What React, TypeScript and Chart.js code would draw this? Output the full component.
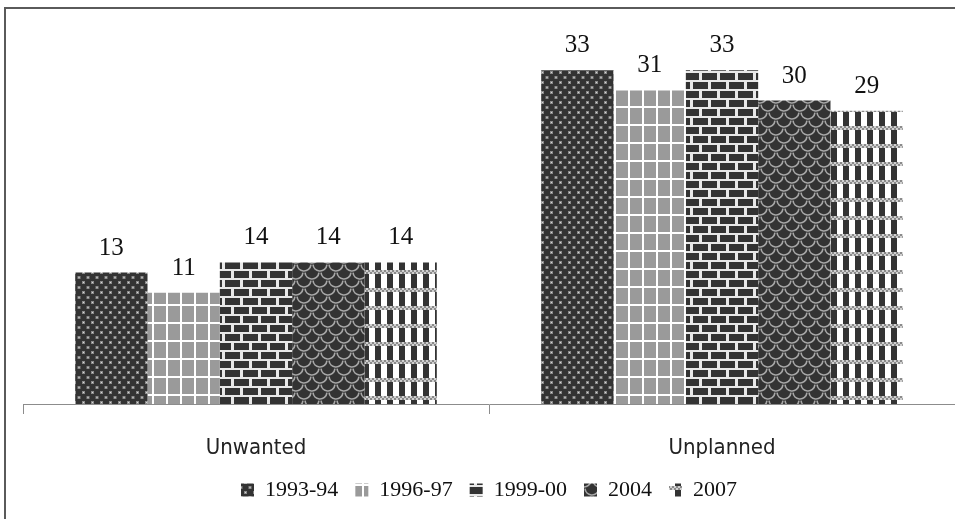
import React, { useEffect, useRef } from "react";
import { Chart, registerables } from "chart.js";

Chart.register(...registerables);

const categories = ["Unwanted", "Unplanned"];
const seriesLabels = ["1993-94", "1996-97", "1999-00", "2004", "2007"];
const s1993 = [13, 33];
const s1996 = [11, 31];
const s1999 = [14, 33];
const s2004 = [14, 30];
const s2007 = [14, 29];
const yMax = 35;

const DARK = "#333333";

function tile(w: number, h: number, draw: (c: CanvasRenderingContext2D) => void): CanvasPattern {
  const cv = document.createElement("canvas");
  cv.width = w;
  cv.height = h;
  const c = cv.getContext("2d")!;
  draw(c);
  const main = document.createElement("canvas").getContext("2d")!;
  return main.createPattern(cv, "repeat")!;
}

function dotsPattern() {
  return tile(9, 10, (c) => {
    c.fillStyle = DARK;
    c.fillRect(0, 0, 9, 10);
    c.fillStyle = "#8a8a8a";
    c.fillRect(1, 1, 3, 3);
    c.fillRect(5.5, 6, 3, 3);
    c.fillStyle = "#d8d8d8";
    c.fillRect(2, 2, 1, 1);
    c.fillRect(6.5, 7, 1, 1);
  });
}

function gridPattern() {
  return tile(14, 18, (c) => {
    c.fillStyle = "#ffffff";
    c.fillRect(0, 0, 14, 18);
    c.fillStyle = "#9a9a9a";
    c.fillRect(0, 0, 12, 16);
  });
}

function brickPattern() {
  return tile(18, 18, (c) => {
    c.fillStyle = "#e8e8e8";
    c.fillRect(0, 0, 18, 18);
    c.fillStyle = DARK;
    c.fillRect(0, 1, 15, 7);
    c.fillRect(9, 10, 15, 7);
    c.fillRect(-9, 10, 15, 7);
  });
}

function scalePattern() {
  return tile(16, 16, (c) => {
    c.fillStyle = DARK;
    c.fillRect(0, 0, 16, 16);
    c.strokeStyle = "#a8a8a8";
    c.lineWidth = 1.6;
    const arcs = [
      [8, 0],
      [0, 8],
      [16, 8],
      [8, 16],
    ];
    arcs.forEach(([x, y]) => {
      c.beginPath();
      c.arc(x, y, 7, 0.1, Math.PI - 0.1);
      c.stroke();
    });
  });
}

function stripePattern() {
  return tile(12, 18, (c) => {
    c.fillStyle = "#ffffff";
    c.fillRect(0, 0, 12, 18);
    c.fillStyle = DARK;
    c.fillRect(3, 0, 6, 18);
    for (let x = 0; x < 12; x += 2) {
      for (let y = 0; y < 4; y += 2) {
        c.fillStyle = (x + y) % 4 === 0 ? "#8a8a8a" : "#d0d0d0";
        c.fillRect(x, y, 2, 2);
      }
    }
  });
}

const valuePlugin = {
  id: "barValues",
  afterDatasetsDraw(chart: any) {
    const ctx = chart.ctx as CanvasRenderingContext2D;
    ctx.save();
    ctx.font = "25px 'Liberation Serif', 'Times New Roman', serif";
    ctx.fillStyle = "#111111";
    ctx.textAlign = "center";
    ctx.textBaseline = "alphabetic";
    chart.data.datasets.forEach((ds: any, i: number) => {
      const meta = chart.getDatasetMeta(i);
      meta.data.forEach((el: any, j: number) => {
        ctx.fillText(String(ds.data[j]), el.x, el.y - 18);
      });
    });
    ctx.restore();
  },
};

export default function App() {
  const ref = useRef<HTMLCanvasElement>(null);

  useEffect(() => {
    document.body.style.margin = "0";
    const canvas = ref.current!;
    const series = [s1993, s1996, s1999, s2004, s2007];
    const patterns = [dotsPattern(), gridPattern(), brickPattern(), scalePattern(), stripePattern()];
    const chart = new Chart(canvas, {
      type: "bar",
      data: {
        labels: categories,
        datasets: series.map((d, i) => ({
          label: seriesLabels[i],
          data: d,
          backgroundColor: patterns[i] as any,
          borderWidth: 0,
          categoryPercentage: 0.776,
          barPercentage: 1.0,
        })),
      },
      options: {
        responsive: false,
        animation: false,
        layout: { padding: { left: 23, right: 0, top: 50, bottom: 8 } },
        scales: {
          x: {
            grid: {
              display: true,
              drawOnChartArea: false,
              drawTicks: true,
              tickLength: 10,
              color: "#8c8c8c",
              lineWidth: 1,
              offset: true,
            },
            border: { display: true, color: "#8c8c8c", width: 1 },
            ticks: {
              font: { family: "'DejaVu Sans Condensed', 'Liberation Sans Narrow', 'Liberation Sans', sans-serif", size: 22 },
              color: "#222222",
              padding: 21,
            },
            afterFit: (s: any) => {
              s.height = 58;
            },
          },
          y: { display: false, min: 0, max: yMax },
        },
        plugins: {
          legend: {
            position: "bottom",
            labels: {
              boxWidth: 13,
              boxHeight: 13,
              padding: 17,
              color: "#111111",
              font: { family: "'Liberation Serif', 'Times New Roman', serif", size: 22 },
            },
          },
          tooltip: { enabled: false },
        },
      },
      plugins: [valuePlugin],
    });
    return () => chart.destroy();
  }, []);

  return (
    <div style={{ position: "relative", width: 955, height: 519, overflow: "hidden", background: "#ffffff" }}>
      <canvas ref={ref} width={955} height={519} style={{ position: "absolute", left: 0, top: 0 }} />
      <div
        style={{
          position: "absolute",
          left: 4,
          top: 7,
          width: 970,
          height: 530,
          borderLeft: "2px solid #5a5a5a",
          borderTop: "2px solid #5a5a5a",
          pointerEvents: "none",
        }}
      />
    </div>
  );
}
